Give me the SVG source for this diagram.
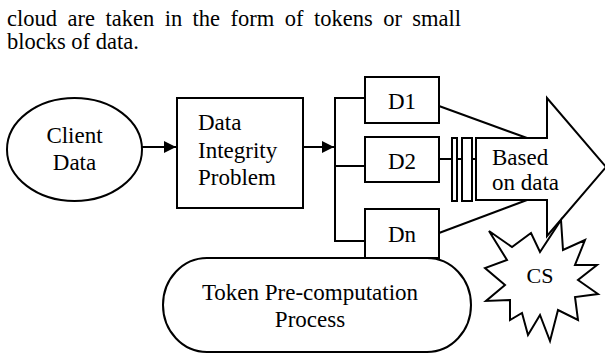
<svg xmlns="http://www.w3.org/2000/svg" width="605" height="355" viewBox="0 0 605 355">
<style>
  text { font-family: "Liberation Serif", "Times New Roman", "DejaVu Serif", serif; fill: #000; }
  .t { font-size: 23px; }
  .p { font-size: 22.5px; }
  .s { fill: #fff; stroke: #000; stroke-width: 2; }
  .l { fill: none; stroke: #000; stroke-width: 2; }
</style>
<defs>
  <marker id="ah" viewBox="0 0 10 10" refX="10" refY="5" markerWidth="16" markerHeight="12" markerUnits="userSpaceOnUse" orient="auto">
    <path d="M0,0 L10,5 L0,10 Z" fill="#000"/>
  </marker>
</defs>
<rect width="605" height="355" fill="#fff"/>
<g id="paragraph" class="p">
  <text x="7" y="26">cloud</text>
  <text x="67.5" y="26">are</text>
  <text x="105.5" y="26">taken</text>
  <text x="164.7" y="26">in</text>
  <text x="192.6" y="26">the</text>
  <text x="230.6" y="26">form</text>
  <text x="284.8" y="26">of</text>
  <text x="314" y="26">tokens</text>
  <text x="383.2" y="26">or</text>
  <text x="412.3" y="26">small</text>
  <text x="7" y="49">blocks of data.</text>
</g>
<g id="connectors">
  <line class="l" x1="142" y1="147" x2="176" y2="147" marker-end="url(#ah)"/>
  <line class="l" x1="303" y1="147" x2="334" y2="147" marker-end="url(#ah)"/>
  <polyline class="l" points="365,98 335,98 335,241 365,241"/>
  <line class="l" x1="335" y1="166" x2="365" y2="166"/>
  <line class="l" x1="439" y1="159" x2="476" y2="159"/>
  <line class="l" x1="439" y1="106" x2="527" y2="138"/>
  <line class="l" x1="439" y1="233" x2="527" y2="200"/>
</g>
<g id="client-data">
  <ellipse class="s" cx="74.5" cy="149.5" rx="67.5" ry="51.5"/>
  <text class="t" x="74.5" y="143" text-anchor="middle">Client</text>
  <text class="t" x="74.5" y="170" text-anchor="middle">Data</text>
</g>
<g id="data-integrity-problem">
  <rect class="s" x="177" y="98" width="126" height="110"/>
  <text class="t" x="198" y="130">Data</text>
  <text class="t" x="198" y="158">Integrity</text>
  <text class="t" x="198" y="185">Problem</text>
</g>
<g id="d1">
  <rect class="s" x="365" y="77" width="74" height="46"/>
  <text class="t" x="402" y="109" text-anchor="middle">D1</text>
</g>
<g id="d2">
  <rect class="s" x="365" y="137" width="74" height="45"/>
  <text class="t" x="402" y="169" text-anchor="middle">D2</text>
</g>
<g id="dn">
  <rect class="s" x="365" y="209" width="74" height="49"/>
  <text class="t" x="402" y="242" text-anchor="middle">Dn</text>
</g>
<g id="bars">
  <rect class="s" x="452" y="138" width="5" height="63"/>
  <rect class="s" x="462" y="138" width="10" height="63"/>
</g>
<g id="based-on-data">
  <polygon class="s" points="476,138 547,138 547,98 606,167 547,236 547,200 476,200"/>
  <text class="t" x="492" y="165">Based</text>
  <text class="t" x="492" y="190">on data</text>
</g>
<g id="token-precomputation">
  <rect class="s" x="163" y="258" width="308" height="94" rx="44" ry="47"/>
  <text class="t" x="310" y="300" text-anchor="middle">Token Pre-computation</text>
  <text class="t" x="310" y="327" text-anchor="middle">Process</text>
</g>
<g id="cs">
  <polygon class="s" points="489,231 512,247 531,233 540,252 561,220 563,250 585,240 575,265 597,265 578,280 598,294 575,297 578,320 558,310 550,341 540,315 528,335 522,313 510,320 510,300 486,301 505,285 485,268 507,260"/>
  <text class="t" x="540" y="283" text-anchor="middle" style="font-size:22px">CS</text>
</g>
</svg>
